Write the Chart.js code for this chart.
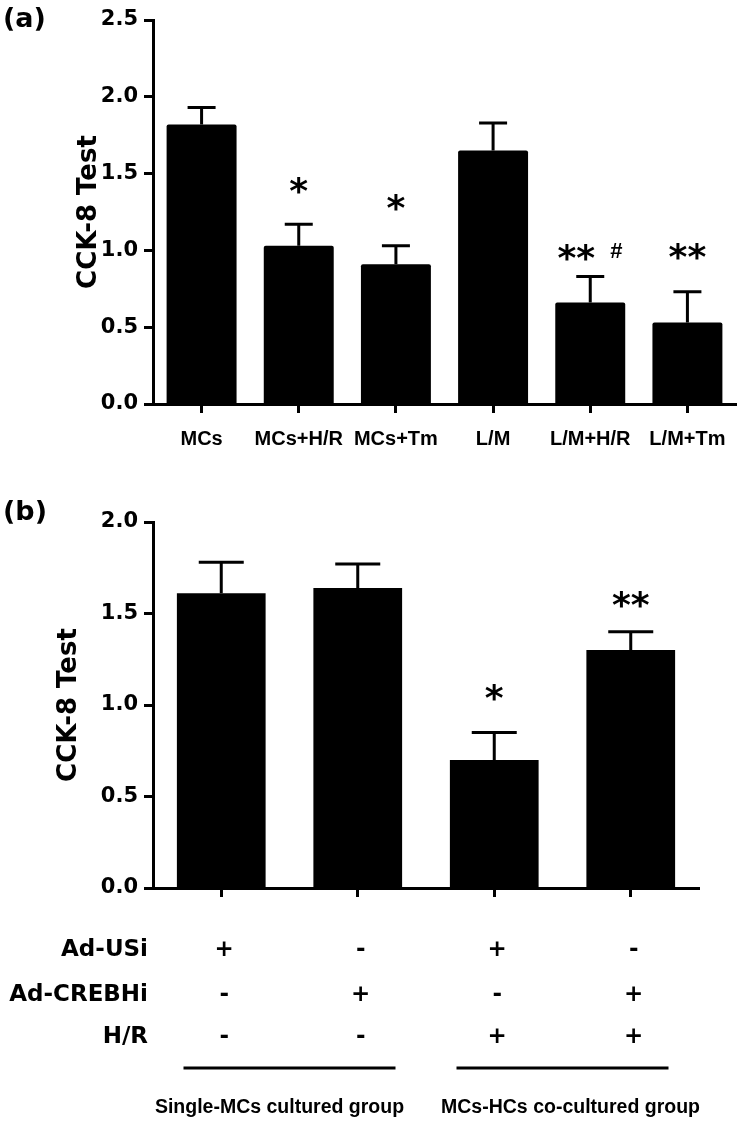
<!DOCTYPE html>
<html>
<head>
<meta charset="utf-8">
<script src="https://cdn.jsdelivr.net/npm/chart.js@4.4.1/dist/chart.umd.min.js"></script>
<style>
  body { margin: 0; background: #fff; }
  #wrap { position: relative; width: 743px; height: 1126px; background: #fff; }
  .box { position: absolute; left: 0; width: 743px; }
  .panel { position: absolute; left: 3px; font: bold 27px "DejaVu Sans", sans-serif; color: #000; }
</style>
</head>
<body>
<div id="wrap">
  <div class="box" style="top:0;height:470px"><canvas id="graphA"></canvas></div>
  <div class="box" style="top:470px;height:656px"><canvas id="graphB"></canvas></div>
  <div class="panel" style="top:2px">(a)</div>
  <div class="panel" style="top:495px">(b)</div>
</div>
<script>
// panel (a)
var groupsA = ["MCs", "MCs+H/R", "MCs+Tm", "L/M", "L/M+H/R", "L/M+Tm"];
var meanA = [1.82, 1.03, 0.91, 1.65, 0.66, 0.53];
var semA = [0.11, 0.14, 0.12, 0.18, 0.17, 0.20];
var sigA = ["", "*", "*", "", "**", "**"];
var hashA = ["", "", "", "", "#", ""];
var yTicksA = [0, 0.5, 1.0, 1.5, 2.0, 2.5];

// panel (b)
var groupsB = ["Ad-USi", "Ad-CREBHi", "Ad-USi + H/R", "Ad-CREBHi + H/R"];
var meanB = [1.61, 1.64, 0.70, 1.30];
var semB = [0.17, 0.13, 0.15, 0.10];
var sigB = ["", "", "*", "**"];
var yTicksB = [0, 0.5, 1.0, 1.5, 2.0];

var rowLabels = ["Ad-USi", "Ad-CREBHi", "H/R"];
var rowSigns = [["+", "-", "+", "-"],
                ["-", "+", "-", "+"],
                ["-", "-", "+", "+"]];
var groupNames = ["Single-MCs cultured group", "MCs-HCs co-cultured group"];
var groupSpans = [[0, 1], [2, 3]];

var FONT = "'DejaVu Sans', sans-serif";
var ARIAL = "'Liberation Sans', Arial, sans-serif";

// error bars + significance marks
var errPlugin = {
  id: 'errbars',
  afterDatasetsDraw: function(chart, args, opts) {
    var ctx = chart.ctx, xs = chart.scales.x, ys = chart.scales.y;
    ctx.save();
    ctx.strokeStyle = '#000';
    ctx.lineWidth = 3;
    opts.mean.forEach(function(m, i) {
      var x = xs.getPixelForValue(i);
      var y0 = ys.getPixelForValue(m);
      var y1 = ys.getPixelForValue(m + opts.sem[i]);
      ctx.beginPath();
      ctx.moveTo(x, y0);
      ctx.lineTo(x, y1);
      ctx.moveTo(x - opts.cap / 2, y1);
      ctx.lineTo(x + opts.cap / 2, y1);
      ctx.stroke();
      var s = opts.sig[i];
      if (s) {
        var yc = y1 - opts.gap[i];
        ctx.fillStyle = '#000';
        ctx.font = "bold 36px " + FONT;
        ctx.textAlign = 'center';
        ctx.textBaseline = 'alphabetic';
        var dx = opts.hash && opts.hash[i] ? -14 : 0;
        ctx.fillText(s, x + dx, yc + 21);
        if (opts.hash && opts.hash[i]) {
          ctx.font = "bold 22px " + ARIAL;
          ctx.fillText(opts.hash[i], x + 26, yc + 9);
        }
      }
    });
    ctx.restore();
  }
};

// factor table under panel (b)
var tablePlugin = {
  id: 'factors',
  afterDraw: function(chart) {
    var ctx = chart.ctx, xs = chart.scales.x;
    ctx.save();
    ctx.fillStyle = '#000';
    ctx.textBaseline = 'middle';
    var rowY = [480, 525, 567];
    rowLabels.forEach(function(lab, r) {
      ctx.font = "bold 23px " + FONT;
      ctx.textAlign = 'right';
      ctx.fillText(lab, 148, rowY[r]);
      ctx.font = "bold 23px " + FONT;
      ctx.textAlign = 'center';
      rowSigns[r].forEach(function(sg, i) {
        ctx.fillText(sg, xs.getPixelForValue(i) + 3, rowY[r]);
      });
    });
    ctx.strokeStyle = '#000';
    ctx.lineWidth = 3;
    groupSpans.forEach(function(sp, g) {
      var mid = (xs.getPixelForValue(sp[0]) + xs.getPixelForValue(sp[1])) / 2;
      ctx.beginPath();
      ctx.moveTo(mid - 106, 598);
      ctx.lineTo(mid + 106, 598);
      ctx.stroke();
      ctx.font = "bold 19.5px " + ARIAL;
      ctx.textAlign = 'center';
      ctx.fillText(groupNames[g], mid + (g === 0 ? -10 : 8), 638);
    });
    ctx.restore();
  }
};

function axisOpts(extra) {
  return Object.assign({
    grid: { display: true, drawOnChartArea: false, drawTicks: true, offset: false,
            tickLength: 9, tickWidth: 3, tickColor: '#000', color: '#000' },
    border: { display: true, width: 3, color: '#000' }
  }, extra);
}

var ctx1 = document.getElementById("graphA").getContext('2d');
var chartA = new Chart(ctx1, {
  type: 'bar',
  data: {
    labels: groupsA,
    datasets: [{
      data: meanA,
      backgroundColor: '#000',
      borderWidth: 0,
      borderRadius: 2,
      barPercentage: 0.72,
      categoryPercentage: 1
    }]
  },
  options: {
    responsive: true,
    maintainAspectRatio: false,
    animation: false,
    layout: { padding: { left: 0, right: 7, top: 20, bottom: 0 } },
    plugins: {
      legend: { display: false },
      tooltip: { enabled: false },
      errbars: { mean: meanA, sem: semA, sig: sigA, hash: hashA, cap: 28, gap: [0, 42, 47, 0, 28, 44] }
    },
    scales: {
      x: axisOpts({
        ticks: { color: '#000', font: { family: ARIAL, weight: 'bold', size: 20 }, padding: 14,
                 maxRotation: 0, autoSkip: false },
        afterFit: function(s) { s.height = 66; }
      }),
      y: axisOpts({
        min: 0, max: 2.5,
        afterBuildTicks: function(s) { s.ticks = yTicksA.map(function(v) { return { value: v }; }); },
        ticks: { color: '#000', font: { family: FONT, weight: 'bold', size: 21 }, padding: 6,
                 callback: function(v) { return Number(v).toFixed(1); } },
        title: { display: true, text: 'CCK-8 Test', color: '#000',
                 font: { family: FONT, weight: 'bold', size: 26 }, padding: { top: 74, bottom: 0 } },
        afterFit: function(s) { s.width = 153; }
      })
    }
  },
  plugins: [errPlugin]
});

var ctx2 = document.getElementById("graphB").getContext('2d');
var chartB = new Chart(ctx2, {
  type: 'bar',
  data: {
    labels: groupsB,
    datasets: [{
      data: meanB,
      backgroundColor: '#000',
      borderWidth: 0,
      barPercentage: 0.65,
      categoryPercentage: 1
    }]
  },
  options: {
    responsive: true,
    maintainAspectRatio: false,
    animation: false,
    layout: { padding: { left: 0, right: 44, top: 52, bottom: 0 } },
    plugins: {
      legend: { display: false },
      tooltip: { enabled: false },
      errbars: { mean: meanB, sem: semB, sig: sigB, cap: 45, gap: [0, 0, 43, 36] }
    },
    scales: {
      x: axisOpts({
        ticks: { display: true, callback: function() { return ''; } },
        afterFit: function(s) { s.height = 238; }
      }),
      y: axisOpts({
        min: 0, max: 2.0,
        afterBuildTicks: function(s) { s.ticks = yTicksB.map(function(v) { return { value: v }; }); },
        ticks: { color: '#000', font: { family: FONT, weight: 'bold', size: 21 }, padding: 6,
                 callback: function(v) { return Number(v).toFixed(1); } },
        title: { display: true, text: 'CCK-8 Test', color: '#000',
                 font: { family: FONT, weight: 'bold', size: 26 }, padding: { top: 54, bottom: 0 } },
        afterFit: function(s) { s.width = 153; }
      })
    }
  },
  plugins: [errPlugin, tablePlugin]
});
</script>
</body>
</html>
